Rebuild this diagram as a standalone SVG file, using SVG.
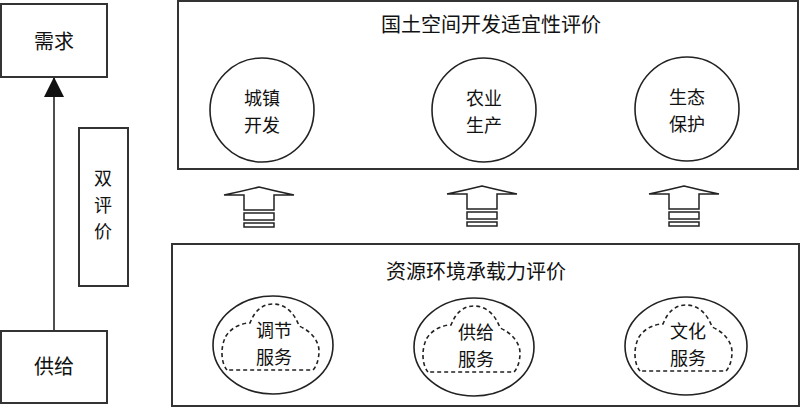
<svg xmlns="http://www.w3.org/2000/svg" width="800" height="407" viewBox="0 0 800 407">
<style>
.box{fill:#fff;stroke:#333;stroke-width:2}
.nd{fill:#fff;stroke:#222;stroke-width:1.6}
.ln{stroke:#222;stroke-width:1.6;fill:none}
.cloud{fill:none;stroke:#222;stroke-width:1.6;stroke-dasharray:4 3}
.up{fill:#fff;stroke:#222;stroke-width:1.5}
text{font-family:"Noto Sans CJK SC","Noto Sans",sans-serif;font-size:20px;fill:#111;text-anchor:middle}
text.m{font-size:18px}
</style>
<defs>
<marker id="ah" markerWidth="22" markerHeight="20" refX="20" refY="10" orient="auto" markerUnits="userSpaceOnUse">
<path d="M0,0 L20,10 L0,20 Z" fill="#111"/>
</marker>
<path id="cl" d="M-46,25 C-52,18 -53,2 -47,-9 C-42,-17 -32,-22 -23,-22 C-18,-35 -10,-41 0,-41 C13,-41 22,-31 26,-19 C38,-14 46,-4 46,6 C46,15 43,22 40,25 Z"/>
<g id="arw">
<path d="M0,-8 Q16,-4 35,0 L15,0 L15,15 L-15,15 L-15,0 L-35,0 Q-16,-4 0,-8 Z"/>
<rect x="-15" y="18" width="30" height="7"/>
<rect x="-15" y="28" width="30" height="4"/>
</g>
</defs>
<g id="connectors">
<line class="ln" x1="54" y1="331" x2="54" y2="77" marker-end="url(#ah)"/>
<line class="ln" x1="314" y1="110" x2="432" y2="110"/>
<line class="ln" x1="536" y1="110" x2="635" y2="110"/>
<line class="ln" x1="333" y1="346" x2="414" y2="346"/>
<line class="ln" x1="534" y1="346" x2="625" y2="346"/>
<use href="#arw" class="up" transform="translate(259,195)"/>
<use href="#arw" class="up" transform="translate(482,194)"/>
<use href="#arw" class="up" transform="translate(684,194)"/>
</g>
<g id="demand"><rect class="box" x="1" y="4" width="106" height="73"/><text x="54" y="49">需求</text></g>
<g id="supply"><rect class="box" x="1" y="331" width="106" height="72"/><text x="54" y="374">供给</text></g>
<g id="dual"><rect class="box" x="79" y="128" width="49" height="158"/><text class="m" x="103" y="185"><tspan x="103">双</tspan><tspan x="103" dy="26.5">评</tspan><tspan x="103" dy="26.5">价</tspan></text></g>
<g id="suitability"><rect class="box" x="178" y="1" width="620" height="168"/><text x="491" y="32">国土空间开发适宜性评价</text></g>
<g id="capacity"><rect class="box" x="172" y="244" width="627" height="162"/><text x="476" y="279">资源环境承载力评价</text></g>
<g id="urban"><circle class="nd" cx="262" cy="110" r="52"/><text class="m" x="262" y="105"><tspan x="262">城镇</tspan><tspan x="262" dy="26.5">开发</tspan></text></g>
<g id="agri"><circle class="nd" cx="484" cy="110" r="52"/><text class="m" x="484" y="105"><tspan x="484">农业</tspan><tspan x="484" dy="26.5">生产</tspan></text></g>
<g id="eco"><circle class="nd" cx="687" cy="109" r="52"/><text class="m" x="687" y="104"><tspan x="687">生态</tspan><tspan x="687" dy="26.5">保护</tspan></text></g>
<g id="regulate"><ellipse class="nd" cx="273" cy="345" rx="60" ry="49"/><use href="#cl" class="cloud" transform="translate(273,345)"/><text class="m" x="274" y="337"><tspan x="274">调节</tspan><tspan x="274" dy="26.5">服务</tspan></text></g>
<g id="provide"><ellipse class="nd" cx="474" cy="347" rx="60" ry="49"/><use href="#cl" class="cloud" transform="translate(474,347)"/><text class="m" x="476" y="339"><tspan x="476">供给</tspan><tspan x="476" dy="26.5">服务</tspan></text></g>
<g id="culture"><ellipse class="nd" cx="686" cy="346" rx="61" ry="49"/><use href="#cl" class="cloud" transform="translate(686,346)"/><text class="m" x="688" y="338"><tspan x="688">文化</tspan><tspan x="688" dy="26.5">服务</tspan></text></g>
</svg>
